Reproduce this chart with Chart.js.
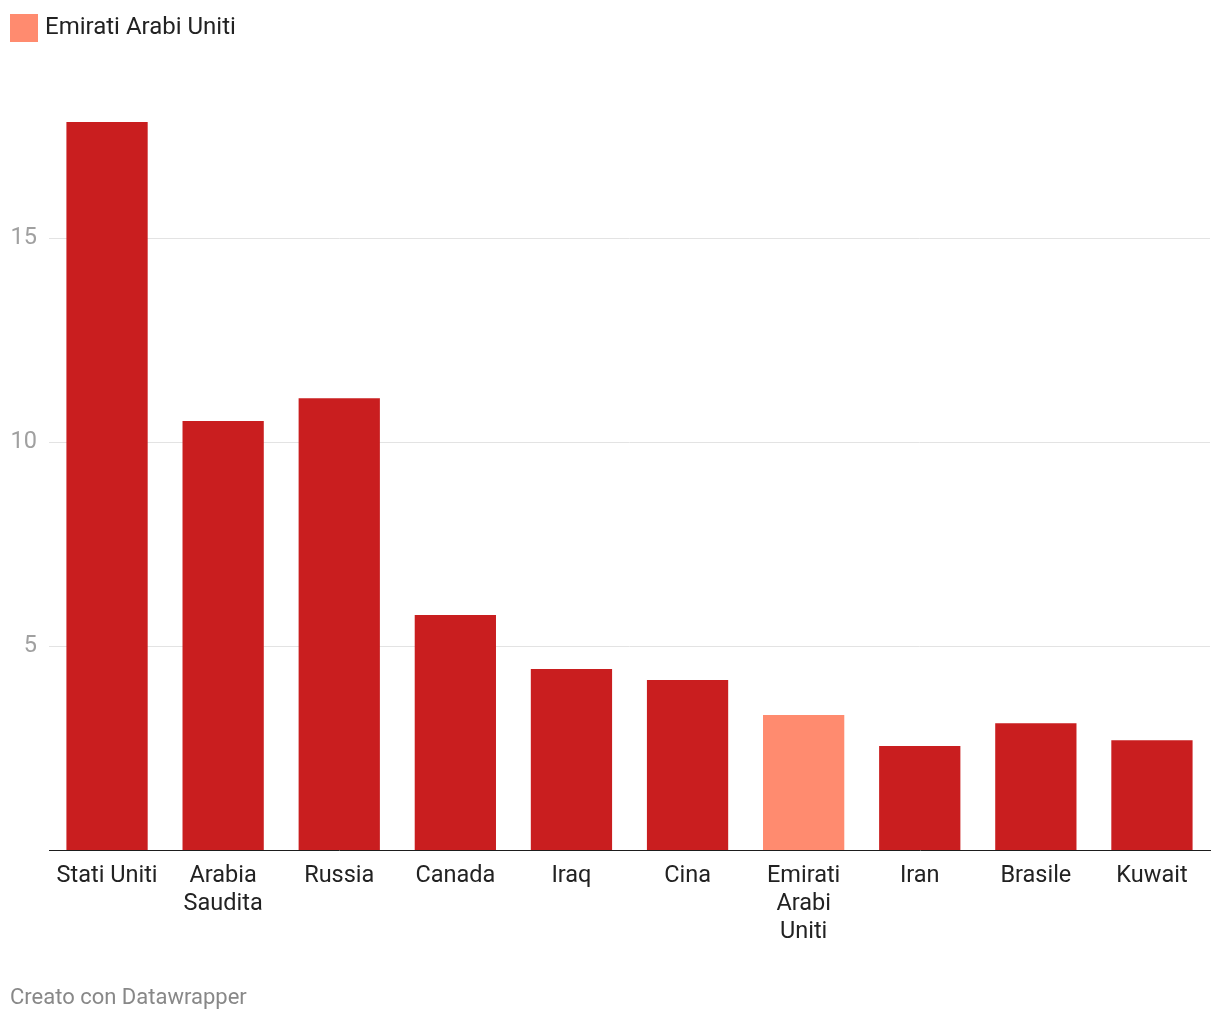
<!DOCTYPE html>
<html>
<head>
<meta charset="utf-8">
<script src="https://cdn.jsdelivr.net/npm/chart.js@4.4.1/dist/chart.umd.min.js"></script>
<style>
  body { margin: 0; background: #fff; font-family: Roboto, sans-serif; }
  #wrap { position: absolute; left: 0; top: 0; width: 1220px; height: 1020px; }
  #legenda { position: absolute; left: 10px; top: 14px; height: 28px; display: flex; align-items: center; font-size: 24px; color: #222; }
  #legenda span.box { display: inline-block; width: 28px; height: 28px; background: #ff8b6f; margin-right: 7px; }
  #legenda span.txt { position: relative; top: -2px; }
  #nota { position: absolute; left: 10px; top: 983px; font-size: 22px; line-height: 28px; color: #888; }
</style>
</head>
<body>
<div id="wrap"><canvas id="grafico"></canvas></div>
<div id="legenda"><span class="box"></span><span class="txt">Emirati Arabi Uniti</span></div>
<div id="nota">Creato con Datawrapper</div>
<script>
const paesi = [
    'Stati Uniti',
    ['Arabia', 'Saudita'],
    'Russia',
    'Canada',
    'Iraq',
    'Cina',
    ['Emirati', 'Arabi', 'Uniti'],
    'Iran',
    'Brasile',
    'Kuwait'
];
const valori = [17.85, 10.52, 11.08, 5.76, 4.44, 4.17, 3.31, 2.55, 3.11, 2.69];
const evidenziato = 6; // Emirati Arabi Uniti
const tickY = [5, 10, 15];

const rosso = '#c91e1f';
const salmone = '#ff8b6f';
const colori = valori.map((v, i) => i === evidenziato ? salmone : rosso);

const ctx = document.getElementById('grafico').getContext('2d');
new Chart(ctx, {
    type: 'bar',
    data: {
        labels: paesi,
        datasets: [{
            label: 'Produzione',
            data: valori,
            backgroundColor: colori,
            borderWidth: 0,
            categoryPercentage: 1,
            barPercentage: 0.7
        }]
    },
    options: {
        responsive: true,
        maintainAspectRatio: false,
        animation: false,
        layout: {
            padding: { top: 116, right: 10, bottom: 50, left: 0 }
        },
        scales: {
            x: {
                grid: { display: false, drawTicks: false },
                border: { display: true, color: '#1d1d1d', width: 1, z: 1 },
                ticks: {
                    color: '#222',
                    font: { family: 'Roboto', size: 23.5, lineHeight: 28 / 23.5 },
                    padding: 12,
                    maxRotation: 0,
                    autoSkip: false
                },
                afterFit: function (scale) {
                    scale.height = 120;
                }
            },
            y: {
                min: 0,
                max: 18,
                grid: { color: '#e3e3e3', lineWidth: 1, drawTicks: false },
                border: { display: false },
                ticks: {
                    color: '#a0a0a0',
                    font: { family: 'Roboto', size: 23.5 },
                    padding: 12
                },
                afterBuildTicks: function (scale) {
                    scale.ticks = tickY.map(v => ({ value: v }));
                },
                afterFit: function (scale) {
                    scale.width = 49;
                }
            }
        },
        plugins: {
            legend: { display: false },
            tooltip: { enabled: false }
        }
    }
});
</script>
</body>
</html>
